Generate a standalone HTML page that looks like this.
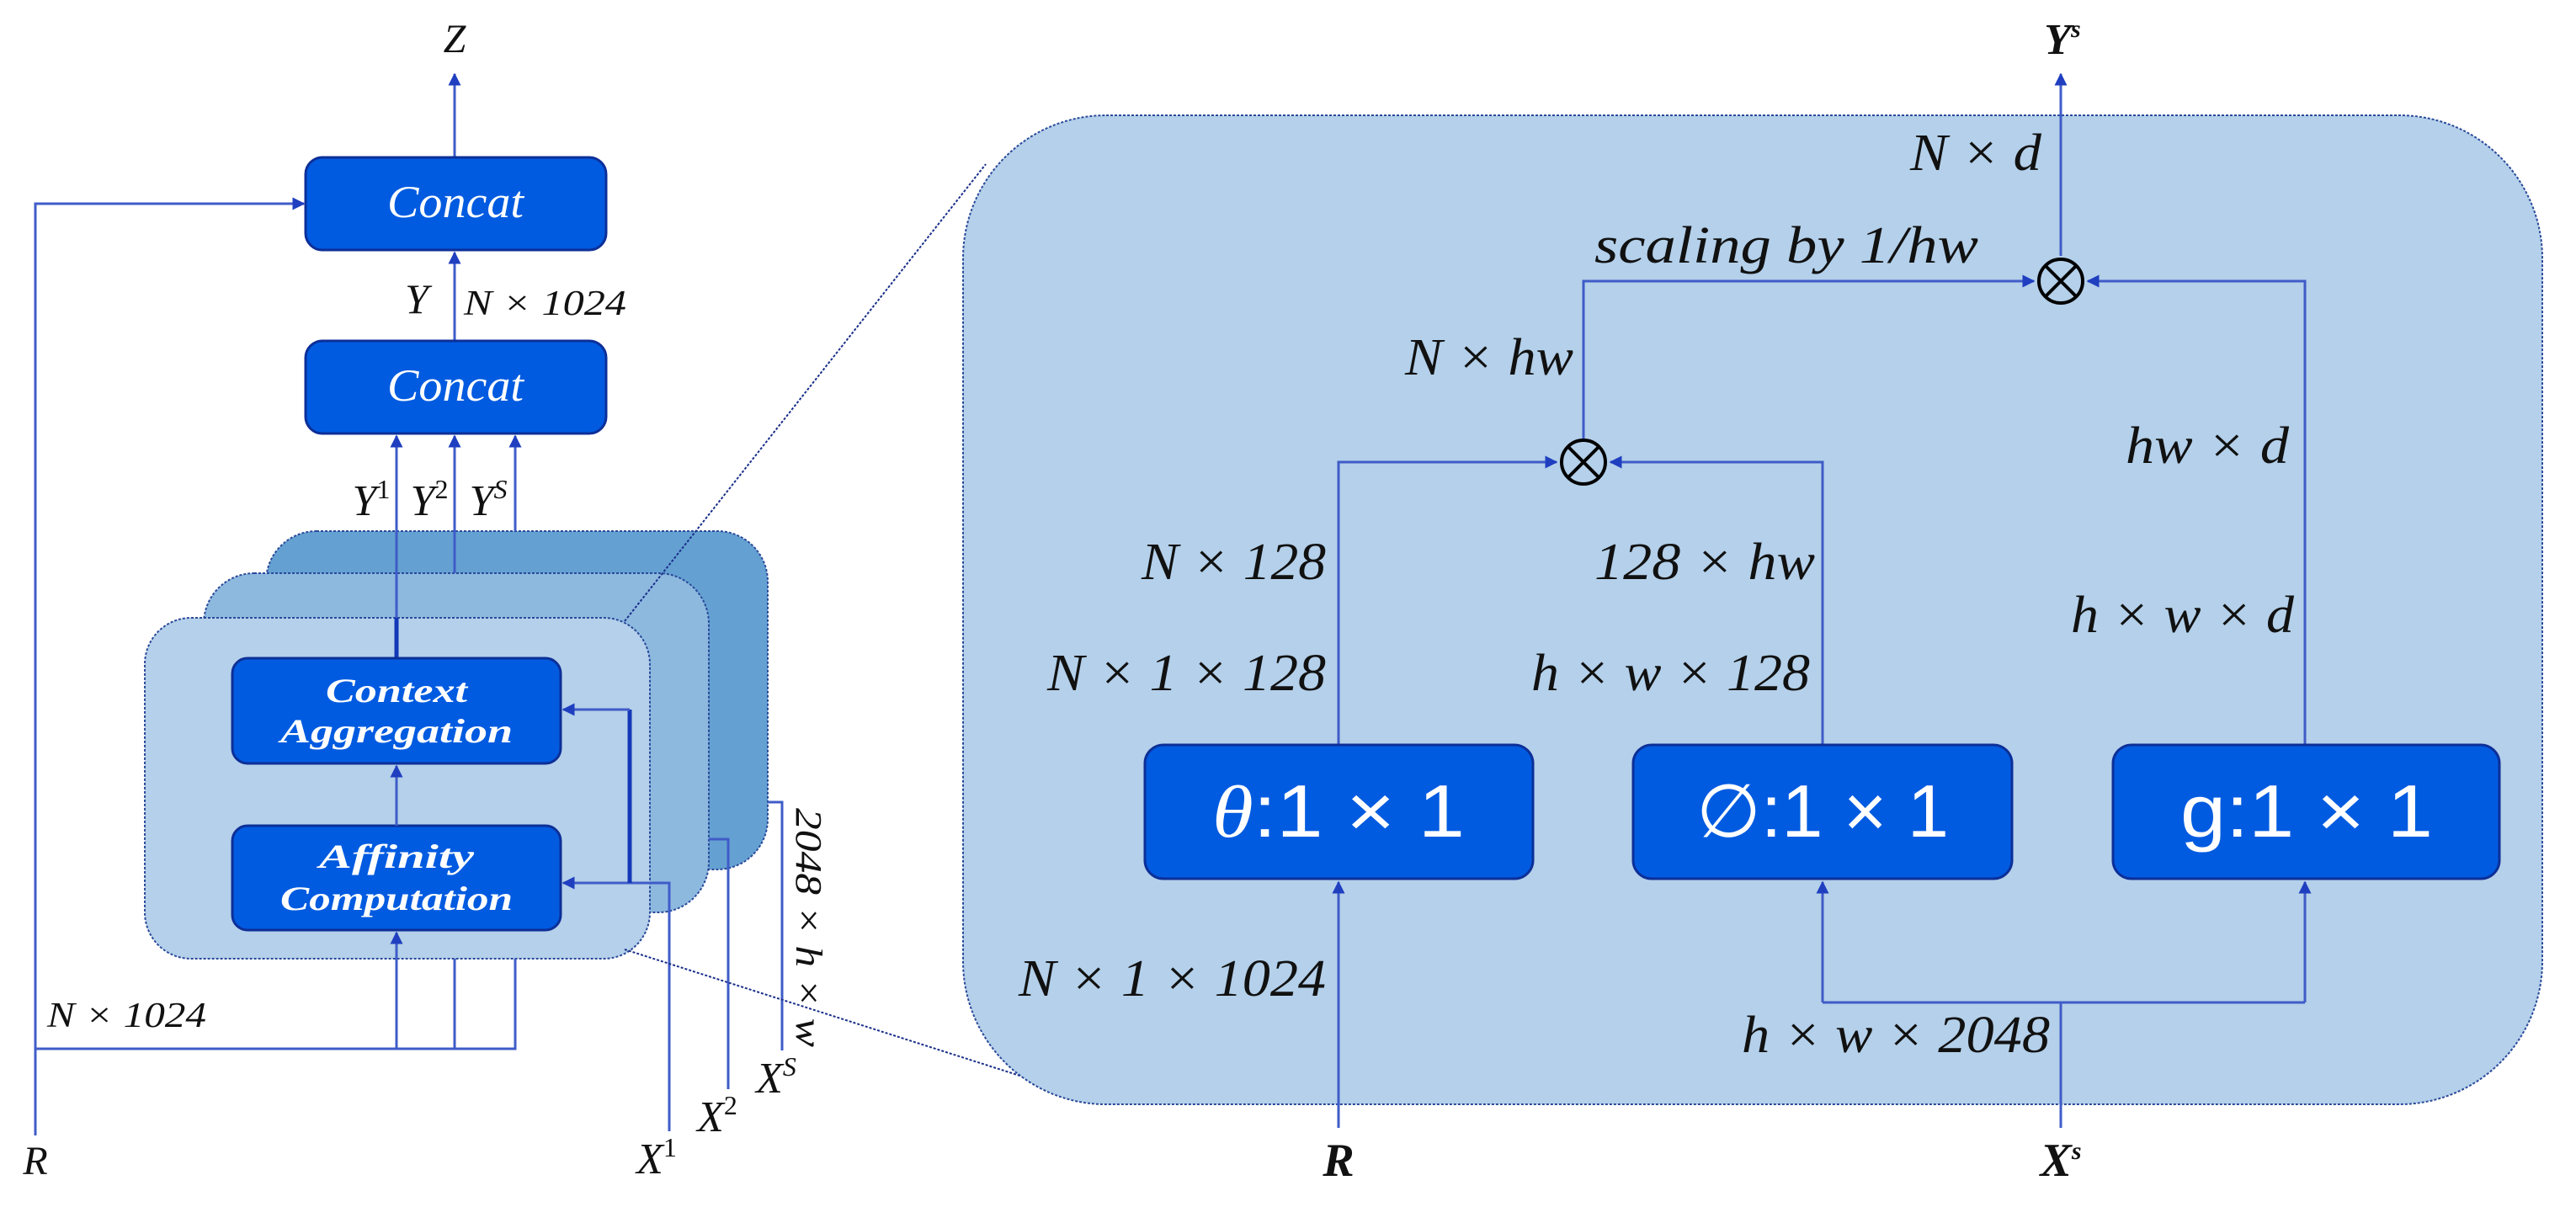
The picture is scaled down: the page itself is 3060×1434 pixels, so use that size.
<!DOCTYPE html>
<html><head><meta charset="utf-8"><style>
html,body{margin:0;padding:0;background:#fff;}
svg{display:block;}
.l{stroke:#3f5cc8;stroke-width:3;fill:none;}
.t{font-family:"Liberation Serif",serif;font-style:italic;fill:#111;}
.bx{fill:#005be0;stroke:#0d2f98;stroke-width:3;}
.w{font-family:"Liberation Serif",serif;font-style:italic;fill:#fff;}
.ws{font-family:"Liberation Sans",sans-serif;fill:#fff;}
</style></head><body>
<svg width="3060" height="1434" viewBox="0 0 3060 1434" xmlns="http://www.w3.org/2000/svg">
<defs>
<marker id="a" viewBox="0 0 10 10" refX="9" refY="5" markerWidth="5" markerHeight="5" orient="auto-start-reverse"><path d="M0,0 L10,5 L0,10 z" fill="#1f3fc0"/></marker>
</defs>

<!-- LEFT DIAGRAM -->
<text class="t" x="540" y="62" font-size="48" text-anchor="middle">Z</text>
<line class="l" x1="540" y1="187" x2="540" y2="88" marker-end="url(#a)"/>
<rect class="bx" x="363" y="187" width="357" height="110" rx="20"/>
<text class="w" x="541" y="258" font-size="54" text-anchor="middle" textLength="162" lengthAdjust="spacingAndGlyphs">Concat</text>
<polyline class="l" points="42,1349 42,242 361,242" marker-end="url(#a)"/>
<text class="t" x="42" y="1395" font-size="48" text-anchor="middle">R</text>
<line class="l" x1="540" y1="405" x2="540" y2="300" marker-end="url(#a)"/>
<text class="t" x="495" y="372" font-size="50" text-anchor="middle">Y</text>
<text class="t" x="551" y="374" font-size="42" textLength="193" lengthAdjust="spacingAndGlyphs">N × 1024</text>
<rect class="bx" x="363" y="405" width="357" height="110" rx="20"/>
<text class="w" x="541" y="476" font-size="54" text-anchor="middle" textLength="162" lengthAdjust="spacingAndGlyphs">Concat</text>

<!-- stacked boxes -->
<rect x="316" y="631" width="596" height="402" rx="60" fill="#64a1d2" stroke="#2a4a9a" stroke-width="2" stroke-dasharray="3,2"/>
<rect x="242" y="681" width="600" height="403" rx="60" fill="#8db9df" stroke="#2a4a9a" stroke-width="2" stroke-dasharray="3,2"/>
<rect x="172" y="734" width="600" height="405" rx="55" fill="#b4d0ea" stroke="#2a4a9a" stroke-width="2" stroke-dasharray="3,2"/>

<line class="l" x1="612" y1="631" x2="612" y2="518" marker-end="url(#a)"/>
<line class="l" x1="540" y1="681" x2="540" y2="518" marker-end="url(#a)"/>
<line class="l" x1="471" y1="782" x2="471" y2="518" marker-end="url(#a)"/>
<line x1="471" y1="734" x2="471" y2="782" stroke="#1437b8" stroke-width="5"/>
<text class="t" x="441" y="612" font-size="52" text-anchor="middle">Y<tspan font-size="32" dy="-20" font-style="normal">1</tspan></text>
<text class="t" x="510" y="612" font-size="52" text-anchor="middle">Y<tspan font-size="32" dy="-20" font-style="normal">2</tspan></text>
<text class="t" x="580" y="612" font-size="52" text-anchor="middle">Y<tspan font-size="32" dy="-20">S</tspan></text>

<rect class="bx" x="276" y="782" width="390" height="125" rx="18"/>
<text class="w" x="471" y="834" font-size="40" font-weight="bold" text-anchor="middle" textLength="168" lengthAdjust="spacingAndGlyphs">Context</text>
<text class="w" x="471" y="882" font-size="40" font-weight="bold" text-anchor="middle" textLength="276" lengthAdjust="spacingAndGlyphs">Aggregation</text>
<rect class="bx" x="276" y="981" width="390" height="124" rx="18"/>
<text class="w" x="471" y="1031" font-size="40" font-weight="bold" text-anchor="middle" textLength="184" lengthAdjust="spacingAndGlyphs">Affinity</text>
<text class="w" x="471" y="1081" font-size="40" font-weight="bold" text-anchor="middle" textLength="276" lengthAdjust="spacingAndGlyphs">Computation</text>
<line class="l" x1="471" y1="981" x2="471" y2="910" marker-end="url(#a)"/>

<polyline class="l" points="42,1246 612,1246 612,1139"/>
<line class="l" x1="540" y1="1246" x2="540" y2="1139"/>
<line class="l" x1="471" y1="1246" x2="471" y2="1108" marker-end="url(#a)"/>
<text class="t" x="56" y="1220" font-size="42" textLength="189" lengthAdjust="spacingAndGlyphs">N × 1024</text>

<polyline class="l" points="795,1344 795,1049 669,1049" marker-end="url(#a)"/>
<polyline points="748,1049 748,843" fill="none" stroke="#1437b8" stroke-width="5"/>
<line class="l" x1="748" y1="843" x2="669" y2="843" marker-end="url(#a)"/>
<polyline class="l" points="865,1294 865,997 842,997"/>
<polyline class="l" points="929,1248 929,953 912,953"/>
<text class="t" x="780" y="1394" font-size="52" text-anchor="middle">X<tspan font-size="32" dy="-20" font-style="normal">1</tspan></text>
<text class="t" x="852" y="1344" font-size="52" text-anchor="middle">X<tspan font-size="32" dy="-20" font-style="normal">2</tspan></text>
<text class="t" x="922" y="1298" font-size="52" text-anchor="middle">X<tspan font-size="32" dy="-20">S</tspan></text>
<text class="t" transform="translate(946,960) rotate(90)" font-size="44" font-style="normal" textLength="284" lengthAdjust="spacingAndGlyphs">2048 × <tspan font-style="italic">h</tspan> × <tspan font-style="italic">w</tspan></text>

<line x1="742" y1="738" x2="1171" y2="195" stroke="#1a2f8a" stroke-width="2" stroke-dasharray="3,2"/>
<line x1="742" y1="1128" x2="1249" y2="1290" stroke="#1a2f8a" stroke-width="2" stroke-dasharray="3,2"/>

<!-- RIGHT DIAGRAM -->
<rect x="1144" y="137" width="1876" height="1175" rx="170" fill="#b4d0ea" stroke="#2a4a9a" stroke-width="2" stroke-dasharray="3,2"/>

<text class="t" x="2450" y="64" font-size="52" font-weight="bold" text-anchor="middle">Y<tspan font-size="30" dy="-20">s</tspan></text>
<line class="l" x1="2448" y1="304" x2="2448" y2="88" marker-end="url(#a)"/>
<text class="t" x="2425" y="202" font-size="62" text-anchor="end" textLength="156" lengthAdjust="spacingAndGlyphs">N × d</text>
<circle cx="2448" cy="334" r="26" fill="none" stroke="#000" stroke-width="4"/>
<path d="M2430,316 L2466,352 M2466,316 L2430,352" stroke="#000" stroke-width="4"/>
<text class="t" x="1894" y="312" font-size="62" textLength="456" lengthAdjust="spacingAndGlyphs">scaling by 1/hw</text>
<polyline class="l" points="1881,521 1881,334 2416,334" marker-end="url(#a)"/>
<polyline class="l" points="2738,885 2738,334 2480,334" marker-end="url(#a)"/>
<text class="t" x="1869" y="445" font-size="62" text-anchor="end" textLength="200" lengthAdjust="spacingAndGlyphs">N × hw</text>

<circle cx="1881" cy="549" r="26" fill="none" stroke="#000" stroke-width="4"/>
<path d="M1863,531 L1899,567 M1899,531 L1863,567" stroke="#000" stroke-width="4"/>
<polyline class="l" points="1590,885 1590,549 1849,549" marker-end="url(#a)"/>
<polyline class="l" points="2165,885 2165,549 1913,549" marker-end="url(#a)"/>

<text class="t" x="1575" y="688" font-size="62" text-anchor="end" textLength="219" lengthAdjust="spacingAndGlyphs">N × 128</text>
<text class="t" x="1575" y="820" font-size="62" text-anchor="end" textLength="331" lengthAdjust="spacingAndGlyphs">N × 1 × 128</text>
<text class="t" x="2156" y="688" font-size="62" text-anchor="end" textLength="262" lengthAdjust="spacingAndGlyphs">128 × hw</text>
<text class="t" x="2150" y="820" font-size="62" text-anchor="end" textLength="331" lengthAdjust="spacingAndGlyphs">h × w × 128</text>
<text class="t" x="2719" y="550" font-size="62" text-anchor="end" textLength="194" lengthAdjust="spacingAndGlyphs">hw × d</text>
<text class="t" x="2725" y="751" font-size="62" text-anchor="end" textLength="265" lengthAdjust="spacingAndGlyphs">h × w × d</text>

<rect class="bx" x="1360" y="885" width="461" height="159" rx="22"/>
<text class="ws" x="1590" y="994" font-size="88" text-anchor="middle" textLength="300" lengthAdjust="spacingAndGlyphs"><tspan font-family="Liberation Serif" font-style="italic">θ</tspan>:1 × 1</text>
<rect class="bx" x="1940" y="885" width="450" height="159" rx="22"/>
<text class="ws" x="2165" y="994" font-size="88" text-anchor="middle" textLength="300" lengthAdjust="spacingAndGlyphs">∅:1 × 1</text>
<rect class="bx" x="2510" y="885" width="459" height="159" rx="22"/>
<text class="ws" x="2740" y="994" font-size="88" text-anchor="middle" textLength="300" lengthAdjust="spacingAndGlyphs">g:1 × 1</text>

<line class="l" x1="1590" y1="1340" x2="1590" y2="1048" marker-end="url(#a)"/>
<text class="t" x="1590" y="1397" font-size="56" font-weight="bold" text-anchor="middle">R</text>
<text class="t" x="1575" y="1183" font-size="62" text-anchor="end" textLength="365" lengthAdjust="spacingAndGlyphs">N × 1 × 1024</text>
<line class="l" x1="2448" y1="1340" x2="2448" y2="1191"/>
<polyline class="l" points="2165,1191 2738,1191"/>
<line x1="2165" y1="1191" x2="2165" y2="1048" class="l" marker-end="url(#a)"/>
<line x1="2738" y1="1191" x2="2738" y2="1048" class="l" marker-end="url(#a)"/>
<text class="t" x="2435" y="1250" font-size="62" text-anchor="end" textLength="366" lengthAdjust="spacingAndGlyphs">h × w × 2048</text>
<text class="t" x="2448" y="1397" font-size="56" font-weight="bold" text-anchor="middle">X<tspan font-size="30" dy="-20">s</tspan></text>
</svg>
</body></html>
